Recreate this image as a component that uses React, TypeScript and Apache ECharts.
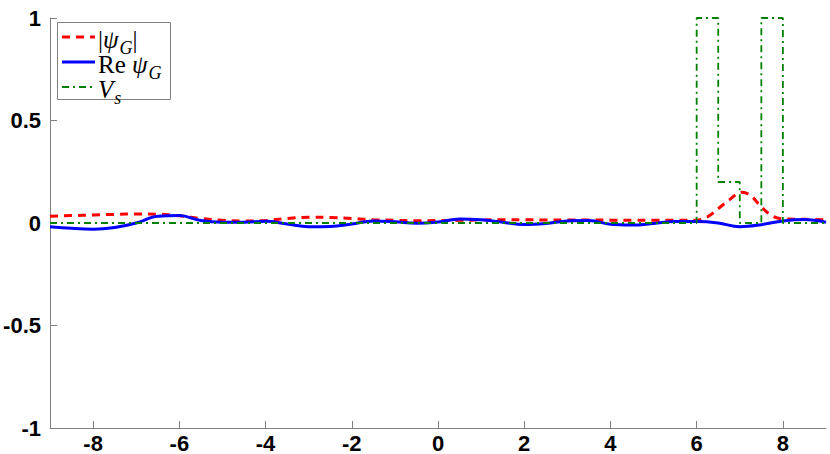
import React, { useEffect, useRef } from "react";
import * as echarts from "echarts";

// |psi_G| samples
const absX = [-9, -8.5, -8, -7.5, -7, -6.5, -6, -5.5, -5, -4.5, -4, -3.5, -3, -2.5, -2, -1.5, -1, -0.5, 0, 0.5, 1, 1.5, 2, 2.5, 3, 3.5, 4, 4.5, 5, 5.5, 6, 6.25, 6.5, 6.75, 7.05, 7.25, 7.5, 7.75, 8, 8.5, 9];
const absY = [0.033, 0.036, 0.039, 0.042, 0.044, 0.043, 0.035, 0.022, 0.013, 0.01, 0.012, 0.022, 0.028, 0.027, 0.022, 0.016, 0.013, 0.011, 0.012, 0.013, 0.015, 0.016, 0.016, 0.015, 0.015, 0.015, 0.014, 0.013, 0.013, 0.013, 0.014, 0.03, 0.07, 0.112, 0.15, 0.135, 0.078, 0.035, 0.02, 0.018, 0.016];

// Re psi_G samples
const reX = [-9, -8.5, -8, -7.5, -7, -6.5, -6, -5.5, -5, -4.5, -4, -3.5, -3, -2.5, -2, -1.5, -1, -0.5, 0, 0.5, 1, 1.5, 2, 2.5, 3, 3.5, 4, 4.5, 5, 5.5, 6, 6.5, 7, 7.5, 8, 8.5, 9];
const reY = [-0.018, -0.026, -0.03, -0.022, 0.0, 0.033, 0.036, 0.012, 0.004, 0.004, 0.008, -0.005, -0.018, -0.017, -0.005, 0.01, 0.006, -0.001, 0.005, 0.02, 0.016, 0.004, -0.007, -0.002, 0.01, 0.012, -0.006, -0.01, -0.002, 0.007, 0.007, 0.0, -0.018, -0.008, 0.01, 0.017, 0.004];

// V_s potential
const vsX = [-9, 6, 6, 6.5, 6.5, 7, 7, 7.5, 7.5, 8, 8, 9];
const vsY = [0, 0, 1, 1, 0.2, 0.2, 0, 0, 1, 1, 0, 0];

const xTicks = [-8, -6, -4, -2, 0, 2, 4, 6, 8];
const yTicks = [-1, -0.5, 0, 0.5, 1];

const names = ["|ψG|", "Re ψG", "Vs"];
const legendRich = ["{n||}{i|ψ}{s|G}{n||}", "{n|Re }{i|ψ}{s|G}", "{i|V}{s|s}"];

const colors = ["#ff0000", "#0000ff", "#008000"];
const widths = [3, 3, 1.8];
const dashes: (number[] | null)[] = [[8, 6], null, [7, 4, 2, 4]];

const zip = (xs: number[], ys: number[]) => xs.map((x, i) => [x, ys[i]]);

export default function App() {
  const ref = useRef<HTMLDivElement>(null);
  useEffect(() => {
    if (!ref.current) return;
    const chart = echarts.init(ref.current, null, { renderer: "svg" });
    const serif = "Liberation Serif";
    const axisLineStyle = { show: true, onZero: false, lineStyle: { color: "#808080", width: 1 } };
    const tickStyle = { show: true, inside: true, length: 7, lineStyle: { color: "#808080" } };
    const labelStyle = {
      color: "#000",
      fontFamily: "Liberation Sans",
      fontWeight: "bold",
      fontSize: 22,
    };
    const rich = {
      n: { fontFamily: serif, fontSize: 25, lineHeight: 20, fill: "#000", color: "#000" },
      i: { fontFamily: serif, fontSize: 25, fontStyle: "italic", lineHeight: 20, fill: "#000", color: "#000" },
      s: { fontFamily: serif, fontSize: 18, fontStyle: "italic", lineHeight: 2, verticalAlign: "top", padding: [10, 0, 0, 1], fill: "#000", color: "#000" },
    };
    const legendTop = 22;
    const rowY = [37, 62, 87];
    const legendChildren: any[] = [
      {
        type: "rect",
        shape: { x: 57.5, y: legendTop + 0.5, width: 113, height: 77 },
        style: { fill: "#fff", stroke: "#808080", lineWidth: 1 },
      },
    ];
    names.forEach((nm, k) => {
      legendChildren.push({
        type: "line",
        shape: { x1: 62, y1: rowY[k], x2: 95, y2: rowY[k] },
        style: { stroke: colors[k], lineWidth: widths[k], lineDash: dashes[k] || undefined },
      });
      legendChildren.push({
        type: "text",
        name: nm,
        x: 98,
        y: rowY[k] + 2,
        style: {
          text: legendRich[k],
          rich,
          fontFamily: serif,
          fontSize: 25,
          fill: "#000",
          verticalAlign: "middle",
          align: "left",
        },
      });
    });
    chart.setOption({
      animation: false,
      backgroundColor: "#ffffff",
      grid: { left: 50, right: 4, top: 18, bottom: 26, containLabel: false },
      xAxis: {
        type: "value",
        min: -9,
        max: 9,
        axisLine: axisLineStyle,
        splitLine: { show: false },
        axisTick: { ...tickStyle, customValues: xTicks },
        axisLabel: { ...labelStyle, customValues: xTicks, margin: 4 },
      },
      yAxis: {
        type: "value",
        min: yTicks[0],
        max: yTicks[yTicks.length - 1],
        interval: 0.5,
        axisLine: axisLineStyle,
        splitLine: { show: false },
        axisTick: tickStyle,
        axisLabel: { ...labelStyle, margin: 9 },
      },
      graphic: [{ type: "group", z: 100, children: legendChildren }],
      series: [
        {
          name: names[0],
          type: "line",
          data: zip(absX, absY),
          smooth: 0.35,
          symbol: "none",
          lineStyle: { color: colors[0], width: widths[0], type: dashes[0] },
        },
        {
          name: names[1],
          type: "line",
          data: zip(reX, reY),
          smooth: 0.4,
          symbol: "none",
          lineStyle: { color: colors[1], width: widths[1], type: "solid" },
        },
        {
          name: names[2],
          type: "line",
          data: zip(vsX, vsY),
          symbol: "none",
          lineStyle: { color: colors[2], width: widths[2], type: dashes[2] },
        },
      ],
    });
    return () => chart.dispose();
  }, []);
  return (
    <div
      ref={ref}
      style={{ position: "fixed", left: 0, top: 0, width: 830, height: 454, background: "#fff" }}
    />
  );
}
